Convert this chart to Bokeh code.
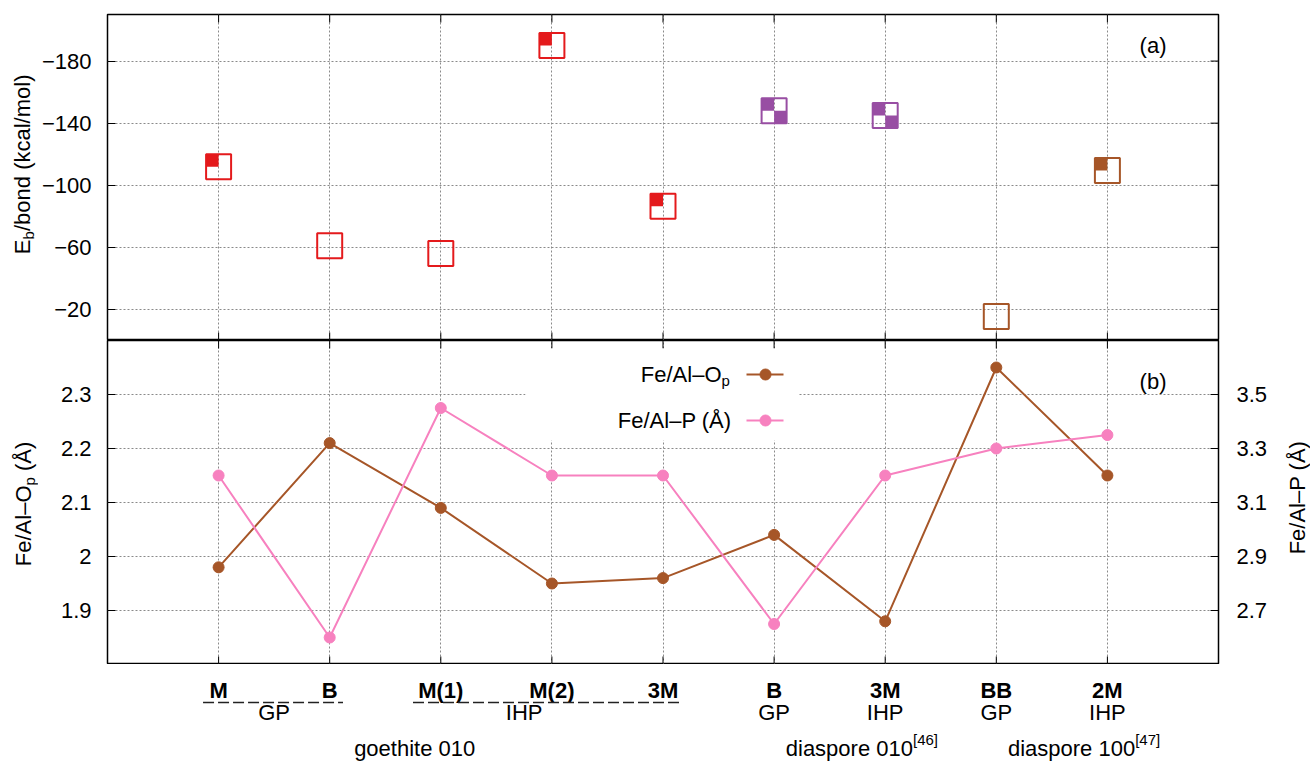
import numpy as np
from bokeh.plotting import figure
from bokeh.models import Range1d, LinearAxis, FixedTicker, Label, Grid
from bokeh.layouts import column, row
from bokeh.embed import file_html
from bokeh.resources import INLINE
from bokeh.core.properties import value

# ---------------- data ----------------
sites = ["M", "B", "M(1)", "M(2)", "3M", "B", "3M", "BB", "2M"]
x_idx = [1, 2, 3, 4, 5, 6, 7, 8, 9]
eb = [-112, -61, -56, -190, -86.5, -148, -145, -15.5, -109.5]
eb_colors = ["#e41a1c"] * 5 + ["#984ea3"] * 2 + ["#a65628"] * 2
eb_quarters = [["tl"], [], [], ["tl"], ["tl"], ["tl", "br"], ["tl", "br"], [], ["tl"]]
fe_op = [1.98, 2.21, 2.09, 1.95, 1.96, 2.04, 1.88, 2.35, 2.15]
fe_p = [3.20, 2.60, 3.45, 3.20, 3.20, 2.65, 3.20, 3.30, 3.35]
layer_labels = ["GP", "IHP", "GP", "IHP", "GP", "IHP"]
layer_pos = [1.5, 3.75, 6, 7, 8, 9]
underline_spans = [(0.86, 2.12), (2.75, 5.16)]
materials = ["goethite 010", "diaspore 010", "diaspore 100"]
material_refs = ["", "[46]", "[47]"]
material_anchor = [3.31, 7.25, 9.25]
eb_ticks = [-180, -140, -100, -60, -20]
op_ticks = [1.9, 2.0, 2.1, 2.2, 2.3]
op_tick_labels = ["1.9", "2", "2.1", "2.2", "2.3"]
p_ticks = [2.7, 2.9, 3.1, 3.3, 3.5]
p_tick_labels = ["2.7", "2.9", "3.1", "3.3", "3.5"]

# ---------------- style / layout ----------------
FONT = "Liberation Sans"
FS = "22px"
SUBFS = "15px"
BROWN = "#a65628"
PINK = "#f781bf"
GRID = "#8a8a8a"
TICK = 8

W, H = 1310, 765
FL, FR = 107, 92          # frame left/right edges in canvas px
LW, RW = 38, 28           # side strips holding the rotated axis titles
FW = W - FL - FR
TOPA, HA, HB = 14, 326, 324
HC = H - TOPA - HA - HB
MW = W - LW - RW

X0, X1 = 0, 10
EB_RANGE = (0, -210)
OP_RANGE = (1.8, 2.4)
P_RANGE = (2.5, 3.7)


def fx(px):
    return X0 + (px - FL) / FW * (X1 - X0)


def fya(py):
    return EB_RANGE[1] + (py - TOPA) / HA * (EB_RANGE[0] - EB_RANGE[1])


def fyb(py):
    return OP_RANGE[1] - (py - (TOPA + HA)) / HB * (OP_RANGE[1] - OP_RANGE[0])


def style_axis(ax, ticks, labels, standoff=16):
    ax.ticker = FixedTicker(ticks=ticks)
    ax.major_tick_in = TICK
    ax.major_tick_out = 0
    ax.minor_tick_in = 0
    ax.minor_tick_out = 0
    ax.axis_line_color = None
    ax.major_tick_line_color = "black"
    ax.major_tick_line_width = 1
    ax.major_label_text_font = FONT
    ax.major_label_text_font_size = FS
    ax.major_label_text_color = "black"
    ax.major_label_standoff = standoff
    ax.major_label_overrides = {t: l for t, l in zip(ticks, labels)}


def style_fig(p, yticks):
    p.outline_line_color = "black"
    p.outline_line_width = 1.5
    p.background_fill_color = "white"
    p.border_fill_color = "white"
    for g in list(p.grid):
        if g.dimension == 0:
            g.visible = False
    p.add_layout(Grid(dimension=0, ticker=FixedTicker(ticks=x_idx)), "center")
    for g in p.grid:
        g.grid_line_color = GRID
        g.grid_line_dash = "2 2"
        g.grid_line_width = 1


def lab(p, x, y, text, size=FS, align="left", baseline="middle"):
    p.add_layout(Label(x=x, y=y, x_units="data", y_units="data", text=text,
                       text_font=FONT, text_font_size=size, text_align=align,
                       text_baseline=baseline, text_color="black"))


def frame_ticks(p, xs, y_lo, y_hi, yticks, ylen, right=True, y_range_name="default"):
    """inward tick marks on top/bottom (at categories) and on the right side"""
    dx = TICK / FW * (X1 - X0)
    x0s = list(xs) + list(xs)
    y0s = [y_lo] * len(xs) + [y_hi] * len(xs)
    y1s = [y_lo + ylen] * len(xs) + [y_hi - ylen] * len(xs)
    p.segment(x0=x0s, y0=y0s, x1=x0s, y1=y1s, line_color="black", line_width=1)
    if right:
        p.segment(x0=[X1] * len(yticks), y0=yticks, x1=[X1 - dx] * len(yticks),
                  y1=yticks, line_color="black", line_width=1)


xr = Range1d(X0, X1)

# ---------------- panel (a) ----------------
pa = figure(width=MW, height=TOPA + HA, frame_width=FW, frame_height=HA,
            x_range=xr, y_range=Range1d(*EB_RANGE), output_backend="svg",
            toolbar_location=None, min_border_left=FL - LW, min_border_right=FR - RW,
            min_border_top=TOPA, min_border_bottom=0, x_axis_location=None)
style_fig(pa, eb_ticks)
style_axis(pa.yaxis[0], eb_ticks, ["\u2212" + str(-t) for t in eb_ticks], standoff=16)
# y reversed: bottom value 0, top value -210
frame_ticks(pa, x_idx, EB_RANGE[0], EB_RANGE[1], eb_ticks,
            -TICK / HA * (EB_RANGE[0] - EB_RANGE[1]))

SQ = 25
half = SQ / 2.0
dxq = (half / 2.0) / FW * (X1 - X0)
dyq = (half / 2.0) / HA * (EB_RANGE[0] - EB_RANGE[1])
signs = {"tl": (-1, -1), "tr": (1, -1), "bl": (-1, 1), "br": (1, 1)}
qx, qy, qc = [], [], []
for xv, yv, col, qs in zip(x_idx, eb, eb_colors, eb_quarters):
    for q in qs:
        sx, sy = signs[q]
        qx.append(xv + sx * dxq)
        qy.append(yv + sy * dyq)
        qc.append(col)
pa.scatter(qx, qy, marker="square", size=half, fill_color=qc, line_color=None)
pa.scatter(x_idx, eb, marker="square", size=SQ, fill_color=None,
           line_color=eb_colors, line_width=2)

lab(pa, fx(1166), fya(45), "(a)", align="right")

# ---------------- panel (b) ----------------
pb = figure(width=MW, height=HB, frame_width=FW, frame_height=HB,
            x_range=xr, y_range=Range1d(*OP_RANGE), output_backend="svg",
            toolbar_location=None, min_border_left=FL - LW, min_border_right=FR - RW,
            min_border_top=0, min_border_bottom=0, x_axis_location=None)
pb.extra_y_ranges = {"right": Range1d(*P_RANGE)}
style_fig(pb, op_ticks)
style_axis(pb.yaxis[0], op_ticks, op_tick_labels, standoff=16)
rb = LinearAxis(y_range_name="right")
style_axis(rb, p_ticks, p_tick_labels, standoff=18)
pb.add_layout(rb, "right")
frame_ticks(pb, x_idx, OP_RANGE[0], OP_RANGE[1], op_ticks,
            TICK / HB * (OP_RANGE[1] - OP_RANGE[0]), right=False)

# legend box (covers grid)
pb.quad(left=fx(525), right=fx(798), top=fyb(348), bottom=fyb(440),
        fill_color="white", line_color=None)

pb.line(x_idx, fe_op, line_color=BROWN, line_width=2)
pb.scatter(x_idx, fe_op, marker="circle", size=11, fill_color=BROWN, line_color=BROWN)
pb.line(x_idx, fe_p, line_color=PINK, line_width=2, y_range_name="right")
pb.scatter(x_idx, fe_p, marker="circle", size=11, fill_color=PINK, line_color=PINK,
           y_range_name="right")

# legend (text left, sample right)
lab(pb, fx(721), fyb(374), "Fe/Al\u2013O", align="right")
lab(pb, fx(721), fyb(380), "p", size=SUBFS, align="left")
lab(pb, fx(731), fyb(420), "Fe/Al\u2013P (\u00c5)", align="right")
for yy, col in ((374, BROWN), (420, PINK)):
    pb.line([fx(746), fx(783)], [fyb(yy), fyb(yy)], line_color=col, line_width=2)
    pb.scatter([fx(765)], [fyb(yy)], marker="circle", size=11, fill_color=col, line_color=col)

lab(pb, fx(1166), fyb(381), "(b)", align="right")

# ---------------- category labels ----------------
pc = figure(width=MW, height=HC, frame_width=FW, frame_height=HC,
            x_range=xr, y_range=Range1d(-HC, 0), output_backend="svg",
            toolbar_location=None, min_border_left=FL - LW, min_border_right=FR - RW,
            min_border_top=0, min_border_bottom=0,
            x_axis_location=None, y_axis_location=None)
pc.outline_line_color = None
pc.background_fill_color = "white"
pc.border_fill_color = "white"
for g in pc.grid:
    g.visible = False

ROW_SITE, ROW_LINE, ROW_LAYER, ROW_MAT, ROW_REF = -26, -38, -48, -84, -75
pc.text(x=x_idx, y=[ROW_SITE] * len(x_idx), text=sites, text_font=value(FONT),
        text_font_size=value(FS), text_font_style="bold", text_align="center",
        text_baseline="middle", text_color="black")
pc.multi_line(xs=[[a, b] for a, b in underline_spans],
              ys=[[ROW_LINE, ROW_LINE] for _ in underline_spans],
              line_color="#222222", line_width=1.5, line_dash="11 4")
pc.text(x=layer_pos, y=[ROW_LAYER] * len(layer_pos), text=layer_labels,
        text_font=value(FONT), text_font_size=value(FS), text_align="center",
        text_baseline="middle", text_color="black")
pc.text(x=material_anchor, y=[ROW_MAT] * len(materials), text=materials,
        text_font=value(FONT), text_font_size=value(FS), text_align="right",
        text_baseline="middle", text_color="black")
pc.text(x=material_anchor[1:], y=[ROW_REF] * (len(materials) - 1), text=material_refs[1:],
        text_font=value(FONT), text_font_size=value(SUBFS), text_align="left",
        text_baseline="middle", text_color="black")


# ---------------- side strips with rotated axis titles ----------------
def strip(x_lo, x_hi):
    s = figure(width=x_hi - x_lo, height=H, frame_width=x_hi - x_lo, frame_height=H,
               x_range=Range1d(x_lo, x_hi), y_range=Range1d(0, H),
               output_backend="svg", toolbar_location=None,
               min_border_left=0, min_border_right=0, min_border_top=0,
               min_border_bottom=0, x_axis_location=None, y_axis_location=None)
    s.outline_line_color = None
    s.background_fill_color = "white"
    s.border_fill_color = "white"
    for g in s.grid:
        g.visible = False
    return s


def vtext(s, px, py, text, size=FS, align="left"):
    s.text(x=[px], y=[H - py], text=[text], angle=np.pi / 2, text_font=value(FONT),
           text_font_size=value(size), text_align=align, text_baseline="middle",
           text_color="black")


left_strip = strip(0, LW)
# E_b/bond (kcal/mol)
vtext(left_strip, 22, 239, "E", align="right")
vtext(left_strip, 28, 239, "b", size=SUBFS)
vtext(left_strip, 22, 230.5, "/bond (kcal/mol)")
# Fe/Al-O_p (Å)
vtext(left_strip, 23, 485, "Fe/Al\u2013O", align="right")
vtext(left_strip, 29, 485, "p", size=SUBFS)
vtext(left_strip, 23, 470.5, "(\u00c5)")

right_strip = strip(W - RW, W)
vtext(right_strip, 1297, 497, "Fe/Al\u2013P (\u00c5)", align="center")

layout = row(left_strip, column(pa, pb, pc), right_strip)
open("out.html", "w").write(file_html(layout, INLINE))
